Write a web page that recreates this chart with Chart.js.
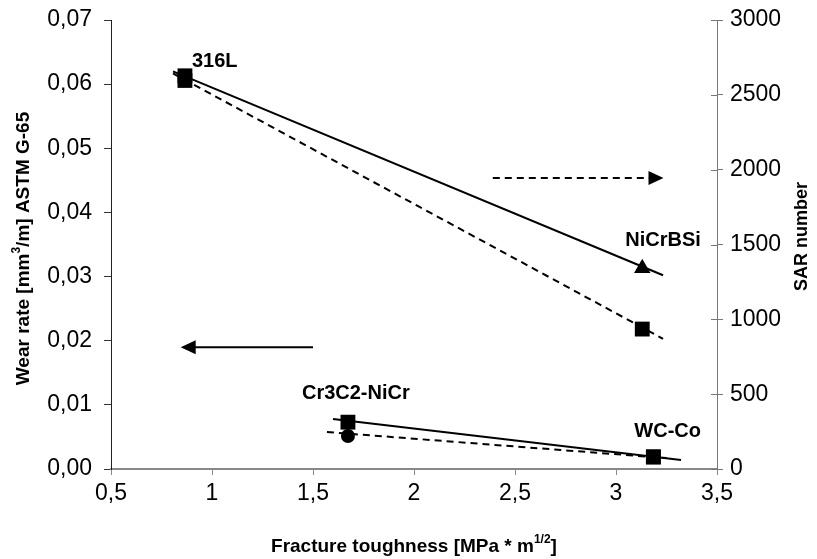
<!DOCTYPE html>
<html>
<head>
<meta charset="utf-8">
<script src="https://cdn.jsdelivr.net/npm/chart.js@4.4.1/dist/chart.umd.min.js"></script>
<style>
  html, body { margin: 0; padding: 0; background: #fff; }
  #wrap { width: 817px; height: 559px; }
</style>
</head>
<body>
<div id="wrap"><canvas id="chart"></canvas></div>
<script>
// values
const materials = ["316L", "NiCrBSi", "Cr3C2-NiCr", "WC-Co"];
const toughness = [0.866, 3.13, 1.673, 3.185];
const wearRate = [0.0613, 0.0313, 0.0073, 0.0019];
const sarNumber = [2596, 935, 220, 80];

// trendlines (two groups), ends
const trendHighX = [0.807, 3.233];
const wearTrendHigh = [0.0620, 0.0302];
const sarTrendHigh = [2643, 870];
const trendLowX = [1.599, 3.322];
const wearTrendLow = [0.0078, 0.0014];
const sarTrendLowX = [1.569, 3.25];
const sarTrendLow = [247, 73];

const xTicks = [0.5, 1, 1.5, 2, 2.5, 3, 3.5];

const pts = (xs, ys) => xs.map((x, i) => ({ x: x, y: ys[i] }));
const comma = v => String(v).replace(".", ",");
const FONT = "'Liberation Sans', Arial, sans-serif";

function trend(xs, ys, axis, dashed) {
  return {
    type: "line", data: pts(xs, ys), yAxisID: axis,
    borderColor: "#000", borderWidth: 2, borderDash: dashed ? [7, 5] : [],
    pointRadius: 0, fill: false, order: 5
  };
}

const labelOffsets = [[7, -14], [-17, -28], [-46, -29], [-19, -25]];

// draws text with a raised small part in the middle, centred on x
function supText(ctx, a, sup, b, size, x, y) {
  ctx.font = "bold " + size + "px " + FONT;
  const wa = ctx.measureText(a).width, wb = ctx.measureText(b).width;
  ctx.font = "bold " + Math.round(size * 0.65) + "px " + FONT;
  const ws = ctx.measureText(sup).width;
  const sx = x - (wa + ws + wb) / 2;
  ctx.font = "bold " + size + "px " + FONT;
  ctx.fillText(a, sx, y);
  ctx.fillText(b, sx + wa + ws, y);
  ctx.font = "bold " + Math.round(size * 0.65) + "px " + FONT;
  ctx.fillText(sup, sx + wa, y - size * 0.45);
}

const annotations = {
  id: "annotations",
  afterDatasetsDraw(chart) {
    const ctx = chart.ctx;
    const x = chart.scales.x, yl = chart.scales.y, yr = chart.scales.y1;
    ctx.save();
    // material labels
    ctx.fillStyle = "#000";
    ctx.font = "bold 20px " + FONT;
    ctx.textBaseline = "middle";
    ctx.textAlign = "left";
    materials.forEach((m, i) => {
      const px = x.getPixelForValue(toughness[i]);
      const py = yl.getPixelForValue(wearRate[i]);
      ctx.fillText(m, px + labelOffsets[i][0], py + labelOffsets[i][1]);
    });
    // arrows
    function arrow(x0, x1, py, dashed) {
      const a = x.getPixelForValue(x0), b = x.getPixelForValue(x1);
      const dir = Math.sign(b - a);
      ctx.beginPath();
      ctx.setLineDash(dashed ? [7, 5] : []);
      ctx.lineWidth = 2;
      ctx.strokeStyle = "#000";
      ctx.moveTo(a, py);
      ctx.lineTo(b - dir * 14, py);
      ctx.stroke();
      ctx.setLineDash([]);
      ctx.beginPath();
      ctx.moveTo(b, py);
      ctx.lineTo(b - dir * 15, py - 7);
      ctx.lineTo(b - dir * 15, py + 7);
      ctx.closePath();
      ctx.fill();
    }
    arrow(1.5, 0.845, yl.getPixelForValue(0.019), false);
    arrow(2.39, 3.235, yr.getPixelForValue(1944), true);
    // inner half of right axis ticks
    ctx.strokeStyle = "#777";
    ctx.lineWidth = 1;
    yr.ticks.forEach(t => {
      const py = Math.round(yr.getPixelForValue(t.value)) + 0.5;
      ctx.beginPath();
      ctx.moveTo(yr.left - 6, py);
      ctx.lineTo(yr.left, py);
      ctx.stroke();
    });
    // axis titles
    const area = chart.chartArea;
    const cx = (area.left + area.right) / 2, cy = (area.top + area.bottom) / 2;
    ctx.textAlign = "left";
    ctx.textBaseline = "alphabetic";
    supText(ctx, "Fracture toughness [MPa * m", "1/2", "]", 19, cx, 552);

    ctx.save();
    ctx.translate(29, cy + 4);
    ctx.rotate(-Math.PI / 2);
    supText(ctx, "Wear rate [mm", "3", "/m] ASTM G-65", 19, 0, 0);
    ctx.restore();

    ctx.save();
    ctx.translate(807, cy - 8);
    ctx.rotate(-Math.PI / 2);
    ctx.textAlign = "center";
    ctx.font = "bold 18px " + FONT;
    ctx.fillText("SAR number", 0, 0);
    ctx.restore();
    ctx.restore();
  }
};

// keep the plot box where the picture has it
const noOverflow = s => { s.paddingTop = 0; s.paddingBottom = 0; s.paddingLeft = 0; s.paddingRight = 0; };

new Chart(document.getElementById("chart"), {
  type: "scatter",
  data: {
    datasets: [
      {
        label: "Wear rate", data: pts(toughness, wearRate), yAxisID: "y",
        pointStyle: ["rect", "triangle", "rect", "rect"],
        pointRadius: [10.5, 9.5, 10.5, 10.5],
        backgroundColor: "#000", borderColor: "#000", borderWidth: 0,
        order: 0
      },
      {
        label: "SAR number", data: pts(toughness, sarNumber), yAxisID: "y1",
        pointStyle: ["rect", "rect", "circle", "rect"],
        pointRadius: [10.5, 10.5, 7, 10.5],
        backgroundColor: "#000", borderColor: "#000", borderWidth: 0,
        order: 1
      },
      trend(trendHighX, wearTrendHigh, "y", false),
      trend(trendLowX, wearTrendLow, "y", false),
      trend(trendHighX, sarTrendHigh, "y1", true),
      trend(sarTrendLowX, sarTrendLow, "y1", true)
    ]
  },
  options: {
    responsive: true,
    maintainAspectRatio: false,
    animation: false,
    layout: { padding: { top: 20, left: 0, right: 0, bottom: 0 } },
    plugins: { legend: { display: false }, tooltip: { enabled: false } },
    scales: {
      x: {
        type: "linear", min: 0.5, max: 3.5,
        afterBuildTicks: s => { s.ticks = xTicks.map(v => ({ value: v })); },
        afterFit: s => { s.height = 90; noOverflow(s); },
        grid: { drawOnChartArea: false, tickLength: 6, color: "#888" },
        border: { color: "#888", width: 2 },
        ticks: {
          color: "#000", padding: 5,
          font: { family: FONT, size: 23 },
          callback: v => comma(v)
        }
      },
      y: {
        type: "linear", position: "left", min: 0, max: 0.07,
        afterFit: s => { s.width = 111; noOverflow(s); },
        grid: { drawOnChartArea: false, tickLength: 7, color: "#333" },
        border: { color: "#222", width: 1 },
        ticks: {
          stepSize: 0.01, color: "#000", padding: 12,
          font: { family: FONT, size: 23 },
          callback: v => v.toFixed(2).replace(".", ",")
        }
      },
      y1: {
        type: "linear", position: "right", min: 0, max: 3000,
        afterFit: s => { s.width = 100; noOverflow(s); },
        grid: { drawOnChartArea: false, tickLength: 6, color: "#777" },
        border: { color: "#777", width: 1 },
        ticks: {
          stepSize: 500, color: "#000", padding: 7,
          font: { family: FONT, size: 23 },
          callback: v => String(v)
        }
      }
    }
  },
  plugins: [annotations]
});
</script>
</body>
</html>
